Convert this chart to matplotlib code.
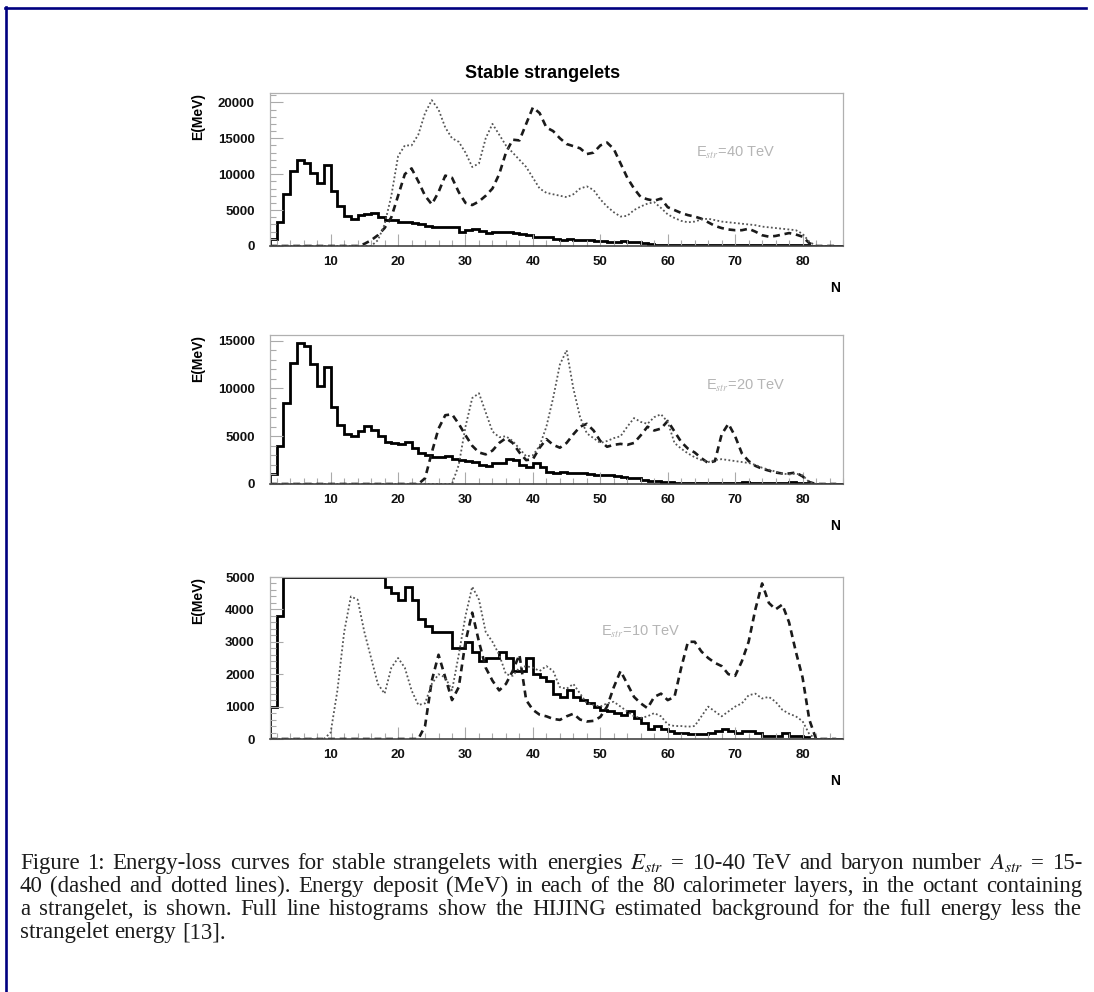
# Energy-loss curves for stable strangelets: three stacked PAW-style histograms + caption.
import numpy as np
import matplotlib
matplotlib.use("Agg")
import matplotlib.pyplot as plt
from matplotlib.lines import Line2D
from matplotlib.ticker import MultipleLocator

plt.rcParams['font.family'] = ['Liberation Sans', 'DejaVu Sans']
plt.rcParams['mathtext.fontset'] = 'stix'

layers = np.arange(1, 86)        # calorimeter layer N
edges = np.arange(1, 87)         # histogram bin edges

# ---- E_str = 40 TeV ----
bg_40 = [1000, 3400, 7200, 10400, 12000, 11600, 10200, 8800, 11300, 7600,
         5500, 4200, 3800, 4300, 4500, 4600, 4000, 3600, 3600, 3400,
         3300, 3200, 3000, 2800, 2700, 2700, 2600, 2600, 2000, 2200,
         2300, 2100, 1800, 1900, 1900, 2000, 1800, 1700, 1500, 1300,
         1200, 1200, 1000, 900, 1000, 900, 800, 800, 700, 700,
         600, 600, 700, 600, 500, 400, 300, 200, 200, 100,
         100, 100, 100, 100, 100, 100, 150, 200, 200, 150,
         150, 100, 100, 100, 100, 100, 100, 100, 100, 100,
         50, 0, 0, 0, 0]
dash_40 = [0] * 14 + [300, 800, 1500, 2500, 4000, 7000, 10000, 10800, 9000, 7000,
                      5800, 7500, 9800, 9500, 7500, 6000, 5700, 6200, 7000, 8000,
                      10000, 13000, 14800, 14700, 17000, 19300, 18500, 16500, 16000, 15000,
                      14200, 13900, 13600, 12800, 13000, 14000, 14400, 13500, 11500, 9500,
                      8000, 6800, 6500, 6300, 6600, 5400, 5000, 4600, 4300, 4100,
                      3800, 3300, 2800, 2500, 2300, 2200, 2200, 2400, 2000, 1500,
                      1300, 1400, 1600, 1800, 1600, 1300, 400] + [0] * 4
dot_40 = [0] * 16 + [800, 3000, 7000, 12500, 14000, 14000, 15500, 18500, 20300, 19000,
                     16500, 15000, 14500, 13000, 11000, 11500, 15000, 17000, 15500, 14000,
                     13000, 12000, 11000, 9500, 8000, 7400, 7200, 7000, 6800, 7200,
                     8000, 8300, 7800, 6500, 5500, 4700, 4100, 4200, 5000, 5500,
                     5900, 6100, 5300, 4400, 3900, 3500, 3300, 3400, 3700, 3800,
                     3600, 3400, 3300, 3200, 3100, 3000, 2900, 2700, 2600, 2500,
                     2400, 2300, 2200, 1700, 600] + [0] * 4

# ---- E_str = 20 TeV ----
bg_20 = [1000, 4000, 8500, 12700, 14800, 14400, 12600, 10300, 12300, 8100,
         6200, 5200, 5000, 5500, 6100, 5700, 5000, 4400, 4300, 4200,
         4400, 3800, 3200, 3000, 2800, 2800, 2900, 2600, 2500, 2400,
         2300, 2000, 1900, 2200, 2200, 2600, 2500, 2000, 1800, 2200,
         1800, 1300, 1200, 1300, 1200, 1100, 1200, 1000, 900, 900,
         900, 800, 700, 600, 600, 400, 300, 300, 200, 200,
         150, 150, 150, 100, 100, 100, 100, 150, 150, 100,
         200, 150, 100, 100, 100, 100, 150, 200, 100, 100,
         50, 0, 0, 0, 0]
dash_20 = [0] * 23 + [600, 3300, 5800, 7200, 7300, 6300, 5100, 4000, 3300, 3100,
                      3500, 4300, 4800, 4300, 3300, 2500, 2600, 3800, 4700, 4100,
                      3800, 4300, 5200, 6000, 6300, 5600, 4500, 3900, 4100, 4200,
                      4100, 4300, 5100, 6000, 5600, 5800, 6600, 5500, 4400, 3700,
                      3300, 2700, 2200, 2400, 5200, 6300, 5000, 3200, 2400, 1900,
                      1600, 1400, 1200, 1100, 1100, 1200, 800, 200] + [0] * 4
dot_20 = [0] * 28 + [2000, 6000, 9000, 9500, 7500, 5500, 4900, 5000, 4500, 3700,
                     2900, 3000, 4000, 6000, 9000, 12500, 14000, 10000, 7000, 5300,
                     4800, 4300, 4500, 4800, 5000, 6000, 6900, 6500, 6300, 7000,
                     7300, 6500, 4300, 3700, 3200, 2800, 2500, 2300, 2500, 2600,
                     2500, 2400, 2300, 2200, 2000, 1700, 1500, 1300, 1100, 1000,
                     1100, 900, 200] + [0] * 4

# ---- E_str = 10 TeV (background goes off scale) ----
bg_10 = [1000, 3800, 8000, 12000, 14000, 13500, 12000, 10000, 11500, 8000,
         6500, 5800, 5600, 6000, 6300, 5900, 5300, 4700, 4500, 4300,
         4700, 4300, 3700, 3500, 3300, 3300, 3300, 2800, 2800, 3000,
         2700, 2400, 2500, 2500, 2700, 2500, 2100, 2100, 2500, 2000,
         1900, 1800, 1400, 1300, 1500, 1300, 1200, 1100, 1000, 900,
         850, 800, 750, 850, 650, 500, 300, 400, 300, 250,
         200, 200, 150, 150, 150, 200, 250, 300, 250, 200,
         250, 250, 200, 100, 100, 100, 200, 100, 100, 50,
         0, 0, 0, 0, 0]
dash_10 = [0] * 23 + [400, 1800, 2600, 1900, 1200, 1600, 3000, 3900, 3000, 2200,
                      1800, 1500, 1700, 2100, 2600, 1200, 900, 750, 700, 620,
                      590, 700, 780, 600, 540, 560, 680, 1000, 1600, 2100,
                      1700, 1300, 1100, 950, 1300, 1400, 1200, 1300, 2200, 3000,
                      3000, 2700, 2500, 2350, 2250, 2000, 1950, 2400, 3000, 4000,
                      4800, 4200, 4000, 4150, 3600, 2700, 1900, 600] + [0] * 4
dot_10 = [0] * 9 + [200, 1500, 3300, 4400, 4300, 3300, 2500, 1700, 1400, 2200,
                    2500, 2200, 1500, 1050, 1100, 1700, 2000, 1900, 1500, 2600,
                    3800, 4700, 4300, 3300, 3000, 2600, 2000, 1950, 2200, 2250,
                    2200, 2100, 2250, 2100, 1600, 1550, 1700, 1400, 1100, 1050,
                    1000, 1100, 1150, 1000, 850, 700, 650, 700, 800, 700,
                    450, 400, 400, 380, 400, 700, 1000, 850, 700, 850,
                    1000, 1100, 1350, 1400, 1250, 1300, 1150, 900, 780, 700,
                    550, 150] + [0] * 4

energies = ['40', '20', '10']
backgrounds = [bg_40, bg_20, bg_10]
dashed_curves = [dash_40, dash_20, dash_10]
dotted_curves = [dot_40, dot_20, dot_10]

W, H = 1094, 992
fig = plt.figure(figsize=(W / 100, H / 100), dpi=100)

# axes boxes in pixels: (top, bottom), common left/right
ax_left, ax_right = 270, 843
boxes = [(93, 246), (335, 484), (577, 739)]
ymaxes = [21300, 15600, 5000]
ymajor = [5000, 5000, 1000]
yminor = [1000, 1000, 200]
label_xy = [(70.0, 13000), (71.5, 10300), (56.0, 3300)]

for i in range(3):
    top, bot = boxes[i]
    ax = fig.add_axes([ax_left / W, 1 - bot / H, (ax_right - ax_left) / W, (bot - top) / H])
    ymax = ymaxes[i]
    bg = np.minimum(np.array(backgrounds[i], dtype=float), ymax)
    ax.stairs(bg, edges, color='black', lw=2.0, baseline=0)
    ax.plot(layers, dashed_curves[i], color='#1a1a1a', lw=1.9, dashes=(2.6, 1.8))
    ax.plot(layers, dotted_curves[i], color='#555555', lw=1.3, dashes=(1.0, 1.3))
    ax.set_xlim(1, 86)
    ax.set_ylim(0, ymax)
    ax.xaxis.set_major_locator(MultipleLocator(10))
    ax.xaxis.set_minor_locator(MultipleLocator(2))
    ax.yaxis.set_major_locator(MultipleLocator(ymajor[i]))
    ax.yaxis.set_minor_locator(MultipleLocator(yminor[i]))
    ax.tick_params(which='both', direction='in', color='#aaaaaa', width=0.8,
                   labelsize=9.5, labelcolor='#111111')
    ax.tick_params(which='major', length=9)
    ax.tick_params(which='minor', length=4.5)
    ax.tick_params(axis='x', pad=7)
    ax.tick_params(axis='y', pad=11)
    for lab in ax.get_xticklabels() + ax.get_yticklabels():
        lab.set_fontweight('bold')
    for side in ['top', 'right', 'left']:
        ax.spines[side].set_color('#b0b0b0')
        ax.spines[side].set_linewidth(0.9)
    ax.spines['bottom'].set_color('#444444')
    ax.spines['bottom'].set_linewidth(1.2)
    ax.text(label_xy[i][0], label_xy[i][1], r'E$_{str}$=' + energies[i] + ' TeV',
            color='#b5b5b5', fontsize=10.5, ha='center', va='center')
    ax.annotate('N', xy=(0.986, 0), xycoords='axes fraction', xytext=(0, -30),
                textcoords='offset points', ha='center', va='center',
                fontsize=10, fontweight='bold')
    ax.annotate('E(MeV)', xy=(0, 1), xycoords='axes fraction', xytext=(-52, -17),
                textcoords='offset points', ha='center', va='center', rotation=90,
                fontsize=10, fontweight='bold')

fig.text(543 / W, 1 - 73 / H, 'Stable strangelets', ha='center', va='center',
         fontsize=13, fontweight='bold')

# caption, justified like the paper
caption = [
    "Figure 1: Energy-loss curves for stable strangelets with energies $E_{str}$ = 10-40 TeV and baryon number $A_{str}$ = 15-",
    "40 (dashed and dotted lines). Energy deposit (MeV) in each of the 80 calorimeter layers, in the octant containing",
    "a strangelet, is shown. Full line histograms show the HIJING estimated background for the full energy less the",
    "strangelet energy [13].",
]
cap_fs = 16.5
cap_left, cap_right = 20, 1082
baselines = [869, 892, 915, 938]
renderer = fig.canvas.get_renderer()
for k, line in enumerate(caption):
    words = line.split(' ')
    texts = [fig.text(0, 1 - baselines[k] / H, w, fontsize=cap_fs, family='Liberation Serif',
                      ha='left', va='baseline', color='#1c1c1c') for w in words]
    widths = [t.get_window_extent(renderer).width for t in texts]
    if k < len(caption) - 1:
        gap = (cap_right - cap_left - sum(widths)) / (len(words) - 1)
    else:
        gap = cap_fs * 0.25 * 100 / 72
    x = cap_left
    for t, w in zip(texts, widths):
        t.set_x(x / W)
        x += w + gap

# navy frame on the left and top
fig.add_artist(Line2D([6 / W, 6 / W], [0, 1 - 7 / H], color='#000080', lw=1.9))
fig.add_artist(Line2D([5 / W, 1086 / W], [1 - 8 / H, 1 - 8 / H], color='#000080', lw=1.9))

fig.savefig('out.png', dpi=100)
